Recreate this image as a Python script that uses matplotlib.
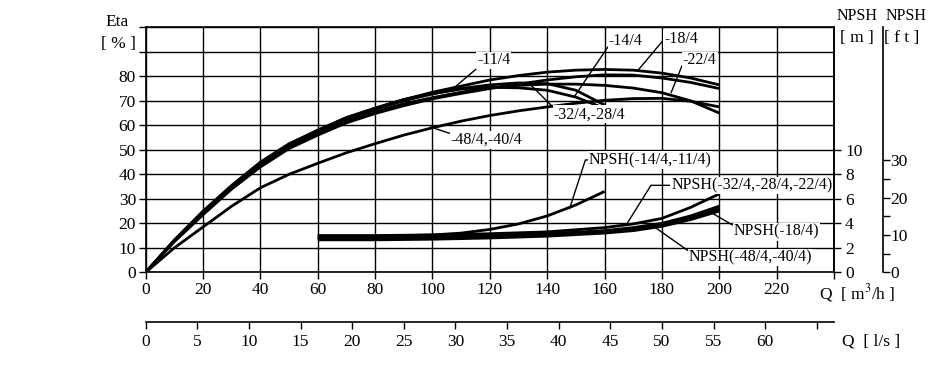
import numpy as np
import matplotlib
matplotlib.use("Agg")
import matplotlib.pyplot as plt

plt.rcParams['font.family'] = ['Liberation Serif', 'DejaVu Serif']
plt.rcParams['mathtext.fontset'] = 'stix'
FS = 11.5
TFS = 12.5

# efficiency curves, Eta [%] vs Q [m3/h]
q_long = [0, 10, 20, 30, 40, 50, 60, 70, 80, 90, 100, 110, 120, 130, 140, 150, 160, 170, 180, 190, 200]
q_short = [0, 10, 20, 30, 40, 50, 60, 70, 80, 90, 100, 110, 120, 130, 140, 150, 160]

eta_18 = [0, 13, 24.5, 35, 44.5, 52, 58, 63, 67, 70.5, 73.5, 76, 78.5, 80.3, 81.7, 82.5, 82.8, 82.5, 81.3, 79.3, 76.5]
eta_32_28 = [0, 12.5, 23.5, 34, 43, 50.5, 56, 61, 64.8, 68, 70.8, 73, 75, 76.8, 78.5, 79.8, 80.6, 80.5, 79.3, 77.5, 75]
eta_22 = [0, 12.8, 24, 34.5, 43.5, 51, 56.5, 61.5, 65.5, 68.8, 71.3, 73.5, 75.3, 76.3, 76.8, 76.8, 76.3, 75.2, 73.3, 70, 65]
eta_48_40 = [0, 10, 18.5, 27, 34.5, 40, 44.5, 48.8, 52.5, 56, 59, 61.7, 64, 65.9, 67.5, 69, 70.2, 70.9, 71, 69.8, 67.5]
eta_11 = [0, 13.2, 25, 35.5, 45, 52.5, 58, 63.2, 67, 70.5, 73, 74.8, 75.5, 75.3, 74.3, 71.5, 66.9]
eta_14 = [0, 13, 24.5, 35, 44.5, 52, 57.5, 62.5, 66.5, 70, 72.8, 75, 76.5, 77.3, 77, 74.3, 68.3]

# NPSH curves [m]
q_npsh_long = [60, 80, 100, 120, 140, 160, 170, 180, 190, 200]
q_npsh_short = [60, 80, 100, 110, 120, 130, 140, 150, 160]
npsh_32_28_22 = [3.0, 3.0, 3.05, 3.15, 3.3, 3.65, 3.95, 4.4, 5.3, 6.4]
npsh_18 = [2.85, 2.85, 2.9, 3.0, 3.15, 3.4, 3.65, 4.0, 4.6, 5.4]
npsh_b = [2.75, 2.75, 2.8, 2.9, 3.05, 3.3, 3.5, 3.85, 4.45, 5.2]
npsh_48_40 = [2.65, 2.65, 2.7, 2.8, 2.95, 3.2, 3.4, 3.75, 4.3, 5.0]
npsh_14_11 = [2.95, 2.95, 3.05, 3.2, 3.5, 3.95, 4.6, 5.5, 6.6]

q_ticks = list(range(0, 241, 20))
eta_ticks = list(range(0, 101, 10))
npsh_ticks = [0, 2, 4, 6, 8, 10]
ft_ticks = [0, 10, 20, 30]
ls_ticks = list(range(0, 66, 5))

W, H = 940, 376
fig = plt.figure(figsize=(W / 100, H / 100), dpi=100)
x0, x1, y0, y1 = 145.7, 834, 272.3, 27.3
ax = fig.add_axes([x0 / W, 1 - y0 / H, (x1 - x0) / W, (y0 - y1) / H])

ax.set_xlim(0, 240)
ax.set_ylim(0, 100)
ax.set_xticks(q_ticks)
ax.set_xticklabels([str(v) if v < 240 else '' for v in q_ticks])
ax.set_yticks(eta_ticks)
ax.set_yticklabels([str(v) if v <= 80 else '' for v in eta_ticks])
ax.grid(True, color='black', lw=1.0)
ax.tick_params(direction='out', length=5, width=1, labelsize=TFS, pad=2, right=False, top=False)
for s in ax.spines.values():
    s.set_linewidth(1.2)

kw = dict(color='black', lw=2, solid_capstyle='butt', zorder=3)
ax.plot(q_long, eta_18, **kw)
ax.plot(q_long, eta_32_28, **kw)
ax.plot(q_long, eta_22, **kw)
ax.plot(q_long, eta_48_40, **kw)
ax.plot(q_short, eta_11, **kw)
ax.plot(q_short, eta_14, **kw)

box = dict(fc='white', ec='none', pad=0.6)


def lab(a, text, xy, xytext, relpos=(0, 0.5), conn='arc3'):
    a.annotate(text, xy=xy, xytext=xytext, ha='left', va='center', fontsize=FS,
               bbox=box, zorder=5,
               arrowprops=dict(arrowstyle='-', lw=1, color='black', shrinkA=0, shrinkB=0,
                               relpos=relpos, connectionstyle=conn))


lab(ax, '-11/4', (107.4, 75.2), (115.5, 86.5), relpos=(0, 0))
lab(ax, '-14/4', (149.4, 71.6), (161.5, 94.5), relpos=(0, 0.2))
lab(ax, '-18/4', (171.7, 82.5), (180.8, 95.2), relpos=(0, 0.5))
lab(ax, '-22/4', (183.2, 73.3), (187.3, 86.5), relpos=(0, 0.3))
lab(ax, '-32/4,-28/4', (134.3, 76.4), (142.3, 64.5), relpos=(0, 0.9))
lab(ax, '-48/4,-40/4', (99.3, 59.3), (106.3, 54.0), relpos=(0, 0.9))

# NPSH [m] axis
axn = ax.twinx()
axn.set_ylim(0, 20)
axn.set_yticks(npsh_ticks)
axn.tick_params(direction='out', length=5, width=1, labelsize=TFS, pad=3)
for s in ['top', 'left', 'bottom']:
    axn.spines[s].set_visible(False)
axn.spines['right'].set_linewidth(1.2)

axn.plot(q_npsh_long, npsh_32_28_22, **kw)
axn.plot(q_npsh_long, npsh_18, **kw)
axn.plot(q_npsh_long, npsh_b, **kw)
axn.plot(q_npsh_long, npsh_48_40, **kw)
axn.plot(q_npsh_short, npsh_14_11, **kw)

lab(axn, 'NPSH(-14/4,-11/4)', (147.8, 5.2), (154.5, 9.17), relpos=(0, 0.5),
    conn='angle,angleA=0,angleB=72,rad=0')
lab(axn, 'NPSH(-32/4,-28/4,-22/4)', (167.5, 3.85), (183.2, 7.1), relpos=(0, 0.5),
    conn='angle,angleA=0,angleB=58,rad=0')
lab(axn, 'NPSH(-18/4)', (196.6, 4.95), (204.9, 3.3), relpos=(0, 0.9))
lab(axn, 'NPSH(-48/4,-40/4)', (178, 3.6), (189.4, 1.2), relpos=(0, 0.9))

# NPSH [ft] axis
axf = ax.twinx()
axf.set_ylim(0, 20 * 3.28084)
axf.spines['right'].set_position(('axes', (883 - x0) / (x1 - x0)))
for s in ['top', 'left', 'bottom']:
    axf.spines[s].set_visible(False)
axf.spines['right'].set_linewidth(1.2)
axf.set_yticks(ft_ticks)
axf.set_yticks([5, 15, 25], minor=True)
axf.tick_params(which='both', direction='out', length=5, width=1, labelsize=TFS, pad=0.5)

# Q [l/s] axis below the main one
sec = ax.secondary_xaxis((y0 - 321.7) / (y0 - y1),
                         functions=(lambda q: q / 3.6, lambda l: l * 3.6))
sec.set_xticks(ls_ticks)
sec.set_xticklabels([str(v) if v <= 60 else '' for v in ls_ticks])
sec.tick_params(direction='out', length=5, width=1, labelsize=TFS, pad=4)
sec.spines['bottom'].set_linewidth(1.2)

# axis titles
fig.text(129 / W, 1 - 22 / H, 'Eta', ha='right', va='center', fontsize=TFS)
fig.text(136 / W, 1 - 44 / H, '[ % ]', ha='right', va='center', fontsize=TFS)
fig.text(837 / W, 1 - 16 / H, 'NPSH', ha='left', va='center', fontsize=FS)
fig.text(840 / W, 1 - 38 / H, '[ m ]', ha='left', va='center', fontsize=TFS)
fig.text(886 / W, 1 - 16 / H, 'NPSH', ha='left', va='center', fontsize=FS)
fig.text(884 / W, 1 - 38 / H, '[ f t ]', ha='left', va='center', fontsize=TFS)
fig.text(819 / W, 1 - 293 / H, 'Q  [ m$^{3}$/h ]', ha='left', va='center', fontsize=TFS)
fig.text(842 / W, 1 - 342 / H, 'Q  [ l/s ]', ha='left', va='center', fontsize=TFS)

fig.savefig('out.png', dpi=100)
